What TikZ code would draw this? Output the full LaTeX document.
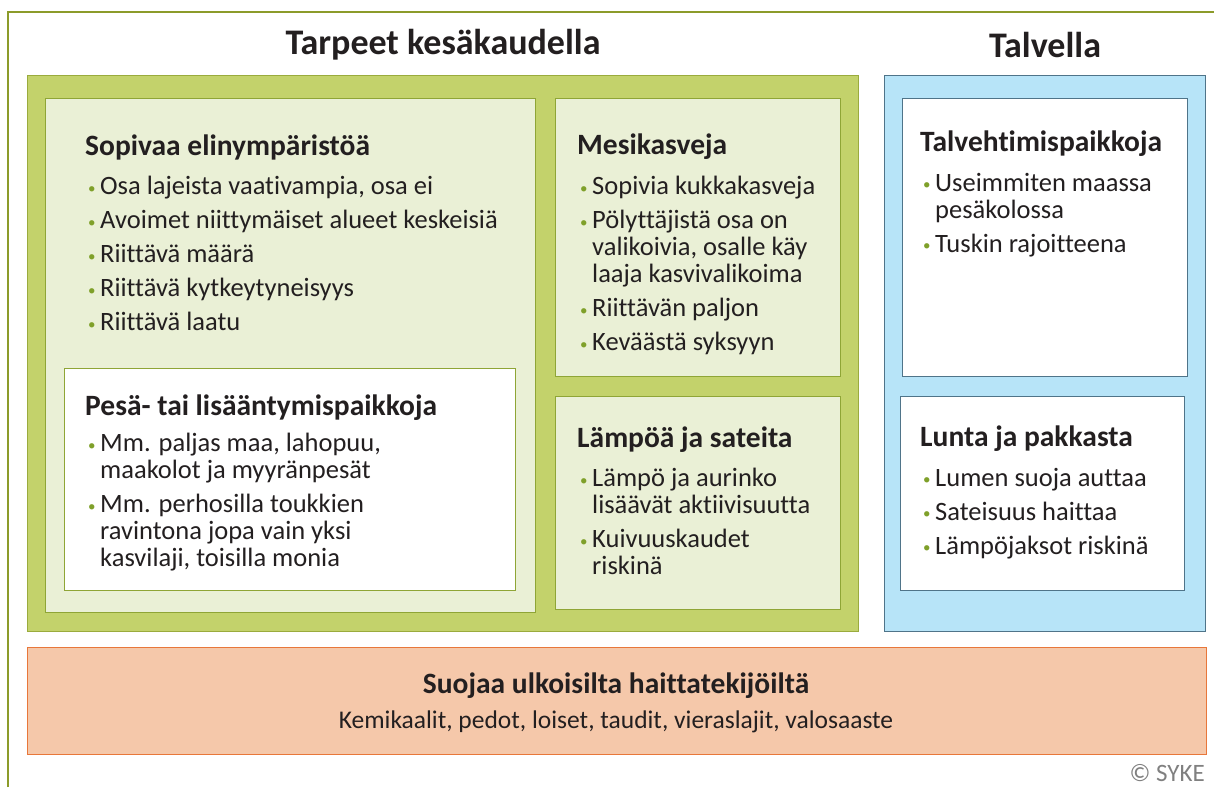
\documentclass[tikz,border=0pt]{standalone}
\usepackage{fontspec}
\setmainfont[Ligatures=NoCommon]{Carlito}
\usetikzlibrary{positioning}

\definecolor{ink}{HTML}{231F20}
\definecolor{framegreen}{HTML}{8C9B2A}
\definecolor{summergreen}{HTML}{C3D26B}
\definecolor{summerline}{HTML}{9AAB3D}
\definecolor{lightgreen}{HTML}{EAF0D6}
\definecolor{lightline}{HTML}{8FA536}
\definecolor{winterblue}{HTML}{B7E4F8}
\definecolor{winterline}{HTML}{4F7489}
\definecolor{threatfill}{HTML}{F5C8AA}
\definecolor{threatline}{HTML}{E8773A}
\definecolor{dotgreen}{HTML}{7FA02A}

\newcommand{\titlefont}{\fontsize{36}{40}\bfseries\selectfont}
\newcommand{\headfont}{\fontsize{29.5}{32}\bfseries\selectfont}
\newcommand{\listfont}{\fontsize{26.5}{27}\selectfont}
\newcommand{\bul}{\makebox[12pt][l]{\textcolor{dotgreen}{\raisebox{1.5pt}{\fontsize{15}{15}\selectfont\textbullet}}}}
\newcommand{\ind}{\hspace*{12pt}}
\newcommand{\gap}{7pt}

\begin{document}
\begin{tikzpicture}[x=1pt,y=-1pt,
    panel/.style={line width=1.2pt, inner sep=0pt, anchor=north west},
    summerbox/.style={panel, draw=summerline, fill=summergreen},
    lightbox/.style={panel, draw=lightline, fill=lightgreen},
    winterbox/.style={panel, draw=winterline, fill=winterblue},
    whitebox/.style={panel, fill=white},
    threatbox/.style={panel, draw=threatline, fill=threatfill},
    headtxt/.style={anchor=west, inner sep=0pt, font=\headfont, text=ink},
    listtxt/.style={anchor=north west, inner sep=0pt, align=left, font=\listfont, text=ink}]

    \useasboundingbox (0,0) rectangle (1214,787);
    \fill[white] (0,0) rectangle (1214,787);

    % outer frame
    \coordinate (fBottom) at (8,787);
    \coordinate (fCorner) at (8,12);
    \coordinate (fRight) at (1214,12);
    \draw[framegreen, line width=1.2pt] (fBottom) -- (fCorner) -- (fRight);

    % column titles
    \node[font=\titlefont, text=ink] (tSummer) at (443,45) {Tarpeet kesäkaudella};
    \node[font=\titlefont, text=ink] (tWinter) at (1045,45) {Talvella};

    % panels
    \node[summerbox, minimum width=831pt, minimum height=556pt] (summer) at (27,75) {};
    \node[lightbox, minimum width=490pt, minimum height=514pt] (habitat) at (45,98) {};
    \node[lightbox, minimum width=285pt, minimum height=278pt] (flowers) at (555,98) {};
    \node[lightbox, minimum width=285pt, minimum height=213pt] (weather) at (555,396) {};
    \node[whitebox, draw=lightline, minimum width=451pt, minimum height=222pt] (nest) at (64,368) {};
    \node[winterbox, minimum width=321pt, minimum height=556pt] (winter) at (884,75) {};
    \node[whitebox, draw=winterline, minimum width=285pt, minimum height=278pt] (hibernate) at (902,98) {};
    \node[whitebox, draw=winterline, minimum width=284pt, minimum height=194pt] (snow) at (900,396) {};
    \node[threatbox, minimum width=1179pt, minimum height=107pt] (threat) at (27,647) {};

    % Sopivaa elinympäristöä
    \node[headtxt] (hHabitat) at (85,147) {Sopivaa elinympäristöä};
    \node[listtxt] (lHabitat) at (88,176) {\bul Osa lajeista vaativampia, osa ei\\[\gap]
        \bul Avoimet niittymäiset alueet keskeisiä\\[\gap]
        \bul Riittävä määrä\\[\gap]
        \bul Riittävä kytkeytyneisyys\\[\gap]
        \bul Riittävä laatu};

    % Pesä- tai lisääntymispaikkoja
    \node[headtxt] (hNest) at (85,408) {Pesä- tai lisääntymispaikkoja};
    \node[listtxt] (lNest) at (88,433) {\bul Mm. paljas maa, lahopuu,\\
        \ind maakolot ja myyränpesät\\[\gap]
        \bul Mm. perhosilla toukkien\\
        \ind ravintona jopa vain yksi\\
        \ind kasvilaji, toisilla monia};

    % Mesikasveja
    \node[headtxt] (hFlowers) at (577,147) {Mesikasveja};
    \node[listtxt] (lFlowers) at (580,176) {\bul Sopivia kukkakasveja\\[\gap]
        \bul Pölyttäjistä osa on\\
        \ind valikoivia, osalle käy\\
        \ind laaja kasvivalikoima\\[\gap]
        \bul Riittävän paljon\\[\gap]
        \bul Keväästä syksyyn};

    % Lämpöä ja sateita
    \node[headtxt] (hWeather) at (577,440) {Lämpöä ja sateita};
    \node[listtxt] (lWeather) at (580,468) {\bul Lämpö ja aurinko\\
        \ind lisäävät aktiivisuutta\\[\gap]
        \bul Kuivuuskaudet\\
        \ind riskinä};

    % Talvehtimispaikkoja
    \node[headtxt] (hHibernate) at (920,144) {Talvehtimispaikkoja};
    \node[listtxt] (lHibernate) at (923,173) {\bul Useimmiten maassa\\
        \ind pesäkolossa\\[\gap]
        \bul Tuskin rajoitteena};

    % Lunta ja pakkasta
    \node[headtxt] (hSnow) at (920,439) {Lunta ja pakkasta};
    \node[listtxt] (lSnow) at (923,468) {\bul Lumen suoja auttaa\\[\gap]
        \bul Sateisuus haittaa\\[\gap]
        \bul Lämpöjaksot riskinä};

    % Suojaa ulkoisilta haittatekijöiltä
    \node[font=\headfont, text=ink] (hThreat) at (616,686) {Suojaa ulkoisilta haittatekijöiltä};
    \node[font=\fontsize{25.5}{27}\selectfont, text=ink] (lThreat) at (616,722) {Kemikaalit, pedot, loiset, taudit, vieraslajit, valosaaste};

    \node[anchor=east, inner sep=0pt, font=\fontsize{25}{28}\selectfont, text=gray] (copyright) at (1205,773) {© SYKE};

\end{tikzpicture}
\end{document}
